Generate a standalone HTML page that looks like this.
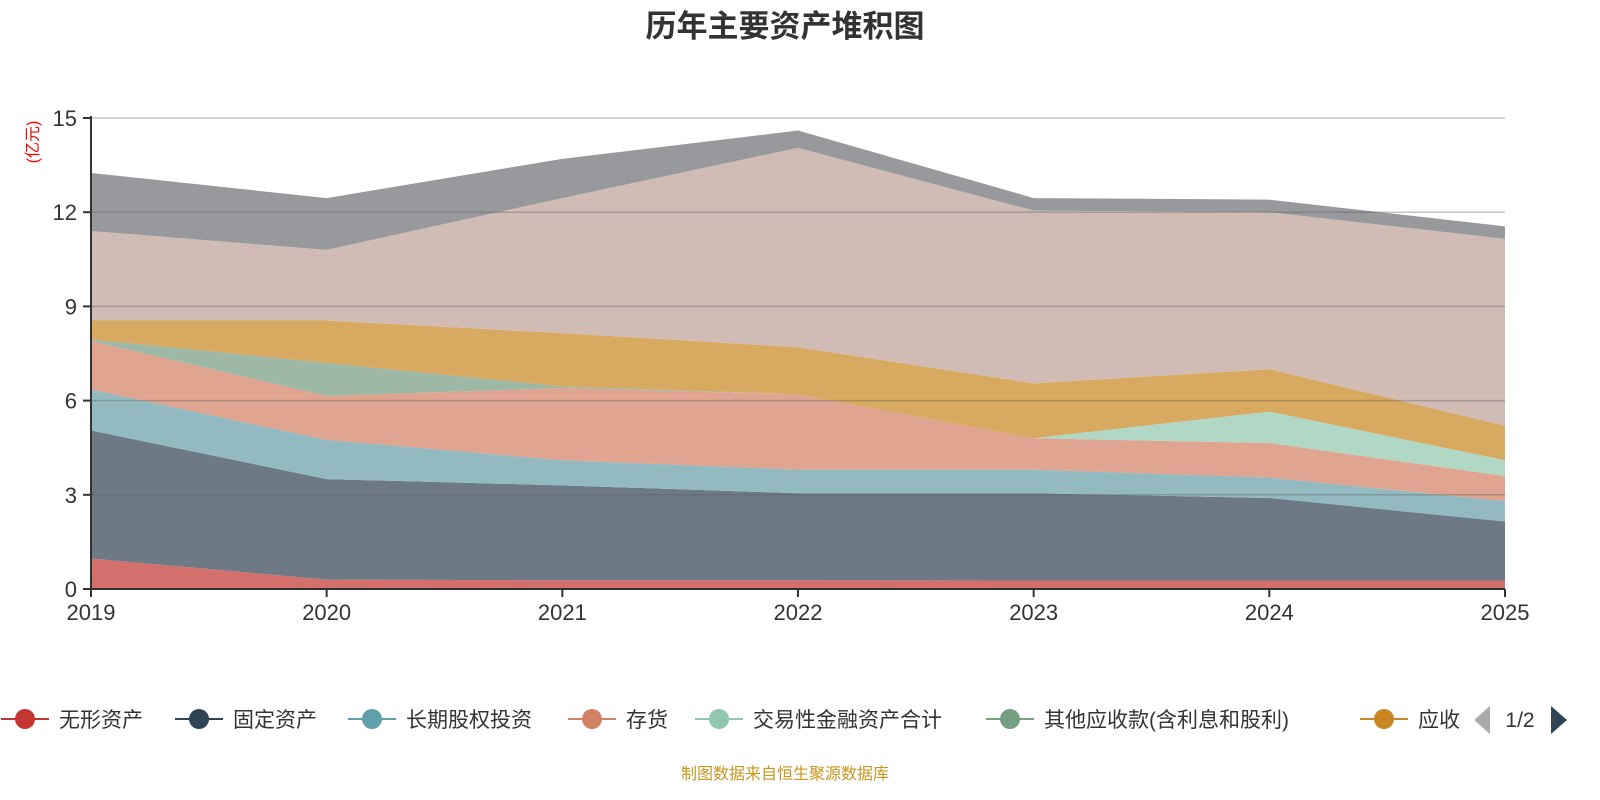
<!DOCTYPE html>
<html><head><meta charset="utf-8"><style>
body{margin:0;background:#fff;}
svg{display:block;font-family:"Liberation Sans","Noto Sans CJK SC",sans-serif;}
</style></head><body>
<svg id="chart" width="1600" height="800">
<text x="785" y="37" text-anchor="middle" font-size="31" font-weight="bold" fill="#333">历年主要资产堆积图</text>
<text transform="translate(38,142) rotate(-90)" text-anchor="middle" font-size="16" fill="#ff0000">(亿元)</text>
<g id="areas"></g><g id="grid"></g><g id="axes"></g><g id="legend"></g>
<text x="785" y="779" text-anchor="middle" font-size="16" fill="#c8961e">制图数据来自恒生聚源数据库</text>
</svg>
<script>
const years=["2019","2020","2021","2022","2023","2024","2025"];
const seriesNames=["无形资产","固定资产","长期股权投资","存货","交易性金融资产合计","其他应收款(含利息和股利)","应收账款","货币资金","其他"];
const s0=[0.97,0.30,0.28,0.28,0.27,0.27,0.27];
const s1=[4.08,3.20,3.02,2.77,2.78,2.63,1.88];
const s2=[1.30,1.25,0.80,0.75,0.75,0.65,0.65];
const s3=[1.55,1.40,2.30,2.40,1.00,1.10,0.80];
const s4=[0,0,0,0,0,1.00,0.50];
const s5=[0.05,1.05,0.05,0,0,0,0];
const s6=[0.60,1.35,1.70,1.50,1.75,1.35,1.10];
const s7=[2.85,2.25,4.30,6.35,5.50,5.00,5.95];
const s8=[1.85,1.65,1.25,0.55,0.40,0.40,0.40];
const yTicks=[0,3,6,9,12,15];
const series=[s0,s1,s2,s3,s4,s5,s6,s7,s8];
const fills=["#d4706b","#6d7a85","#92bac0","#dfa591","#b0d8c5","#9db8a5","#d8a960","#d0bcb5","#98999c"];
const legendColors=["#c23531","#2f4554","#61a0a8","#d48265","#91c7ae","#749f83","#ca8622"];
const X0=91,X1=1505,Y0=589,Y1=118,YMAX=15;
const xs=i=>X0+(X1-X0)*i/(years.length-1);
const ys=v=>Y0-(Y0-Y1)*v/YMAX;
const NS="http://www.w3.org/2000/svg";
function mk(tag,attrs,parent){const e=document.createElementNS(NS,tag);for(const k in attrs)e.setAttribute(k,attrs[k]);parent.appendChild(e);return e;}
const areas=document.getElementById('areas');
let base=years.map(()=>0);
series.forEach((s,si)=>{
  const top=base.map((b,i)=>b+s[i]);
  let d="M"+years.map((_,i)=>xs(i)+","+ys(top[i])).join("L");
  for(let i=years.length-1;i>=0;i--)d+="L"+xs(i)+","+ys(base[i]);
  const p=mk('path',{d:d+"Z",fill:fills[si]},areas);
  
  
  base=top;
});
const grid=document.getElementById('grid'),axes=document.getElementById('axes');
yTicks.forEach(t=>{
  if(t>0){const l=mk('line',{x1:X0,x2:X1,y1:ys(t),y2:ys(t),stroke:"rgba(90,90,90,0.35)","stroke-width":1.5},grid);
  }
  mk('line',{x1:X0-8,x2:X0,y1:ys(t),y2:ys(t),stroke:"#333","stroke-width":2},axes);
  const tx=mk('text',{x:X0-14,y:ys(t)+8,"text-anchor":"end","font-size":22,fill:"#333"},axes);
  tx.textContent=t;
});
mk('line',{x1:X0,x2:X0,y1:Y1-2,y2:Y0,stroke:"#333","stroke-width":2},axes);
mk('line',{x1:X0,x2:X1,y1:Y0,y2:Y0,stroke:"#333","stroke-width":2},axes);
years.forEach((y,i)=>{
  mk('line',{x1:xs(i),x2:xs(i),y1:Y0,y2:Y0+8,stroke:"#333","stroke-width":2},axes);
  const tx=mk('text',{x:xs(i),y:Y0+31,"text-anchor":"middle","font-size":22,fill:"#333"},axes);
  tx.textContent=y;
});
const lg=document.getElementById('legend');
const lx=[25,199,372,592,719,1010,1384];
legendColors.forEach((c,i)=>{
  const g=mk('g',{},lg);
  
  
  mk('line',{x1:lx[i]-24,x2:lx[i]+24,y1:719,y2:719,stroke:c,"stroke-width":2},g);
  mk('circle',{cx:lx[i],cy:719,r:10,fill:c},g);
  const t=mk('text',{x:lx[i]+34,y:727,"font-size":21,fill:"#333"},g);
  t.textContent=i===6?"应收":seriesNames[i];
});
const pg=mk('g',{},lg);


mk('path',{d:"M1490,706L1490,734L1474,720Z",fill:"#aaa"},pg);
const pt=mk('text',{x:1520,y:727,"text-anchor":"middle","font-size":21,fill:"#333"},pg);pt.textContent="1/2";
mk('path',{d:"M1551,706L1551,734L1567,720Z",fill:"#2f4554"},pg);
</script>
</body></html>
